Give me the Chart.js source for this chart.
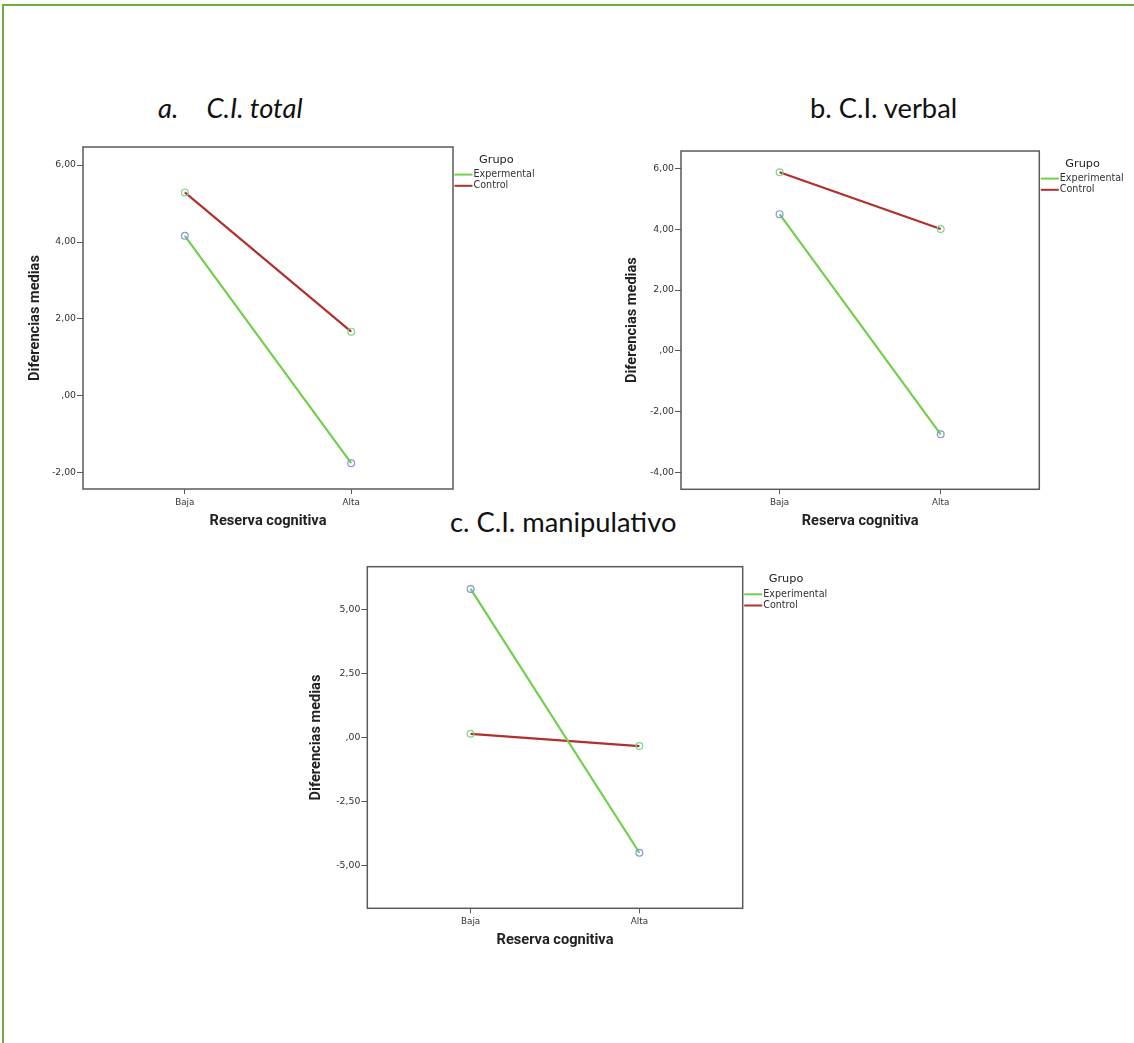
<!DOCTYPE html>
<html>
<head>
<meta charset="utf-8">
<script src="https://cdn.jsdelivr.net/npm/chart.js@4.4.1/dist/chart.umd.min.js"></script>
<style>
  html, body { margin: 0; padding: 0; background: #fff; width: 1134px; height: 1043px; overflow: hidden; }
  #frame { position: absolute; left: 2px; top: 4px; width: 1300px; height: 1200px;
           border-left: 2px solid #70ad47; border-top: 2px solid #70ad47; }
  canvas { position: absolute; }
  .ttl { position: absolute; font-family: Lato, "Open Sans", sans-serif; font-size: 27.3px;
         line-height: 28px; color: #111; white-space: nowrap; }
</style>
</head>
<body>
<div id="frame"></div>

<div class="ttl" style="left:158px; top:94px; font-style:italic;">a.</div>
<div class="ttl" style="left:206.5px; top:94px; font-style:italic;">C.I. total</div>
<div class="ttl" style="left:810px; top:94px;">b. C.I. verbal</div>
<div class="ttl" style="left:450px; top:507.5px;">c. C.I. manipulativo</div>

<canvas id="chartTotal"  width="560" height="410" style="left:20px;  top:130px;"></canvas>
<canvas id="chartVerbal" width="524" height="405" style="left:610px; top:135px;"></canvas>
<canvas id="chartManip"  width="560" height="410" style="left:300px; top:550px;"></canvas>

<script>
// Factor levels on the x axis
const categories = ['Baja', 'Alta'];

// Group names shown in each legend
const groupNamesTotal = ['Expermental', 'Control'];
const groupNames = ['Experimental', 'Control'];

// Mean differences, C.I. total
const totalExperimental = [4.16, -1.75];
const totalControl = [5.29, 1.67];

// Mean differences, C.I. verbal
const verbalExperimental = [4.50, -2.75];
const verbalControl = [5.88, 4.01];

// Mean differences, C.I. manipulativo
const manipExperimental = [5.82, -4.49];
const manipControl = [0.16, -0.32];

// Y tick values
const totalTicks = [-2, 0, 2, 4, 6];
const verbalTicks = [-4, -2, 0, 2, 4, 6];
const manipTicks = [-5, -2.5, 0, 2.5, 5];

const GREEN = '#72cf4c';
const RED = '#b0302c';
const MARK_GREEN = '#7fd58a';
const MARK_BLUE = '#8396d8';
const AXIS = '#5a5a5a';
const TITLE_FONT = { family: 'Roboto', size: 14.6, weight: 'bold' };

// SPSS style numbers: comma decimal, no leading zero for 0
function fmt(v) {
  if (Math.abs(v) < 1e-9) return ',00';
  return v.toFixed(2).replace('.', ',');
}

// Plot box and "Grupo" legend drawn to the right of the box
const spssFrame = {
  id: 'spssFrame',
  afterDraw(chart, args, opts) {
    const { ctx, chartArea: a } = chart;
    ctx.save();
    ctx.strokeStyle = AXIS;
    ctx.lineWidth = 1.5;
    ctx.strokeRect(a.left, a.top, a.right - a.left, a.bottom - a.top);

    ctx.textBaseline = 'middle';
    ctx.textAlign = 'left';
    ctx.fillStyle = '#222';
    ctx.font = '11.3px "DejaVu Sans"';
    ctx.fillText(opts.title, a.right + 26, a.top + 12.8);

    ctx.font = '9.6px "DejaVu Sans"';
    chart.data.datasets.forEach((ds, i) => {
      const y = a.top + 27.6 + i * 11.2;
      ctx.strokeStyle = ds.borderColor;
      ctx.lineWidth = 2;
      ctx.beginPath();
      ctx.moveTo(a.right + 1.5, y);
      ctx.lineTo(a.right + 19.5, y);
      ctx.stroke();
      ctx.fillStyle = '#333';
      ctx.fillText(ds.label, a.right + 20.5, y);
    });
    ctx.restore();
  }
};

function series(label, values, lineColor, markColor) {
  return {
    label: label,
    data: values.map((v, i) => ({ x: i, y: v })),
    borderColor: lineColor,
    borderWidth: 2.2,
    pointRadius: 3.4,
    pointBorderWidth: 1.2,
    pointBorderColor: markColor,
    pointBackgroundColor: 'rgba(0,0,0,0)',
    tension: 0
  };
}

function makeChart(id, p) {
  return new Chart(document.getElementById(id), {
    type: 'line',
    data: {
      datasets: [
        series(p.names[0], p.exp, GREEN, MARK_BLUE),
        series(p.names[1], p.ctl, RED, MARK_GREEN)
      ]
    },
    options: {
      responsive: false,
      animation: false,
      devicePixelRatio: 1,
      events: [],
      layout: { padding: { top: p.padTop, right: p.padRight, left: 0, bottom: 0 } },
      plugins: {
        legend: { display: false },
        tooltip: { enabled: false },
        spssFrame: { title: 'Grupo' }
      },
      scales: {
        x: {
          type: 'linear',
          min: -0.612,
          max: 1.612,
          afterBuildTicks: s => { s.ticks = categories.map((c, i) => ({ value: i })); },
          afterFit: s => { s.height = p.xAxisH; },
          ticks: {
            callback: v => categories[v],
            autoSkip: false, maxRotation: 0, minRotation: 0,
            padding: 3,
            color: '#333',
            font: { family: 'DejaVu Sans', size: 8.8 }
          },
          grid: { drawOnChartArea: false, drawTicks: true, tickLength: 5, color: AXIS, lineWidth: 1 },
          border: { display: false },
          title: {
            display: true,
            text: 'Reserva cognitiva',
            color: '#222',
            font: TITLE_FONT,
            padding: { top: 0, bottom: p.xTitlePad }
          }
        },
        y: {
          type: 'linear',
          min: p.yMin,
          max: p.yMax,
          afterBuildTicks: s => { s.ticks = p.ticks.map(v => ({ value: v })); },
          afterFit: s => { s.width = p.yAxisW; },
          ticks: {
            callback: v => fmt(v),
            padding: 1,
            color: '#333',
            font: { family: 'DejaVu Sans', size: 9.3 }
          },
          grid: { drawOnChartArea: false, drawTicks: true, tickLength: 6, color: AXIS, lineWidth: 1 },
          border: { display: false },
          title: {
            display: true,
            text: 'Diferencias medias',
            color: '#222',
            font: TITLE_FONT,
            padding: { top: p.yTitlePad, bottom: 0 }
          }
        }
      }
    },
    plugins: [spssFrame]
  });
}

// Title offsets below assume a 14.6px title font (line height ~17.5px)
makeChart('chartTotal', {
  names: groupNamesTotal, exp: totalExperimental, ctl: totalControl,
  ticks: totalTicks, yMin: -2.42, yMax: 6.47,
  padTop: 17, padRight: 127, yAxisW: 63, xAxisH: 51, yTitlePad: 6.2, xTitlePad: 9.5
});

makeChart('chartVerbal', {
  names: groupNames, exp: verbalExperimental, ctl: verbalControl,
  ticks: verbalTicks, yMin: -4.56, yMax: 6.58,
  padTop: 16, padRight: 94.7, yAxisW: 71, xAxisH: 50.7, yTitlePad: 13.9, xTitlePad: 10.2
});

makeChart('chartManip', {
  names: groupNames, exp: manipExperimental, ctl: manipControl,
  ticks: manipTicks, yMin: -6.66, yMax: 6.69,
  padTop: 16.7, padRight: 117.3, yAxisW: 67.3, xAxisH: 51.7, yTitlePad: 7.9, xTitlePad: 11.2
});
</script>
</body>
</html>
